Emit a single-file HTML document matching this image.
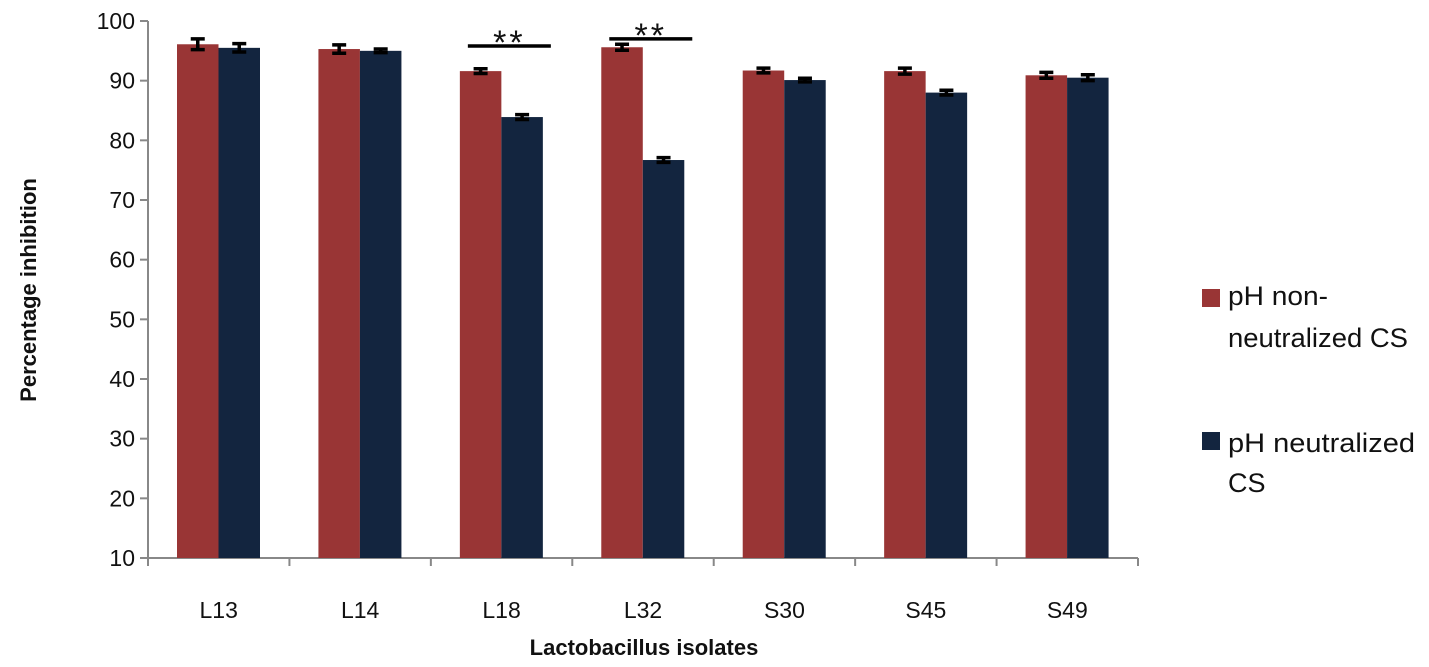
<!DOCTYPE html>
<html><head><meta charset="utf-8"><style>
body{margin:0;background:#fff}
svg{display:block;font-family:"Liberation Sans",sans-serif}
</style></head><body>
<svg id="chart" width="1429" height="667" viewBox="0 0 1429 667">
<g id="axes"></g>
<g id="bars"></g>
<g id="sig"></g>
<text transform="translate(36,290) rotate(-90)" text-anchor="middle" font-size="22" font-weight="bold" fill="#111">Percentage inhibition</text>
<text x="644" y="655" text-anchor="middle" font-size="22" font-weight="bold" fill="#111">Lactobacillus isolates</text>
<g>
<rect x="1202" y="289" width="18" height="18" fill="#993535"/>
<text x="1228" y="305" font-size="27" fill="#111" textLength="100" lengthAdjust="spacingAndGlyphs">pH non-</text>
<text x="1228" y="347" font-size="27" fill="#111" textLength="180" lengthAdjust="spacingAndGlyphs">neutralized CS</text>
<rect x="1202" y="432" width="18" height="18" fill="#13253f"/>
<text x="1228" y="452" font-size="27" fill="#111" textLength="187" lengthAdjust="spacingAndGlyphs">pH neutralized</text>
<text x="1228" y="492" font-size="27" fill="#111">CS</text>
</g>
</svg>
<script>
const categories=["L13","L14","L18","L32","S30","S45","S49"];
const nonNeutralized=[96.1,95.3,91.6,95.6,91.7,91.6,90.9];
const neutralized=[95.5,95.0,83.9,76.7,90.1,88.0,90.5];
const errNon=[0.9,0.7,0.4,0.5,0.4,0.5,0.5];
const errNeu=[0.7,0.3,0.4,0.4,0.3,0.4,0.5];
const yTicks=[10,20,30,40,50,60,70,80,90,100];
const sigPairs=[2,3];
const sigLevels=[95.8,97.0];

const NS="http://www.w3.org/2000/svg";
const x0=148,plotW=990,yBase=558,yTop=21,yMin=10,yMax=100;
const band=plotW/categories.length,barW=41.5,off=29;
const y=v=>yBase-(v-yMin)*(yBase-yTop)/(yMax-yMin);
const bx=(i,s)=>x0+i*band+off+s*barW;
function mk(tag,attrs,parent){const e=document.createElementNS(NS,tag);for(const k in attrs)e.setAttribute(k,attrs[k]);parent.appendChild(e);return e;}
const axes=document.getElementById('axes'),bars=document.getElementById('bars'),sig=document.getElementById('sig');
let l=mk('line',{x1:x0,y1:yTop,x2:x0,y2:yBase,stroke:'#888','stroke-width':2},axes);


l=mk('line',{x1:x0-8,y1:yBase,x2:x0+plotW,y2:yBase,stroke:'#888','stroke-width':2},axes);


yTicks.forEach(t=>{
 const tk=mk('line',{x1:x0-8,y1:y(t),x2:x0,y2:y(t),stroke:'#888','stroke-width':2},axes);
 
 
 const tx=mk('text',{x:x0-13,y:y(t)+8,'text-anchor':'end','font-size':23,fill:'#111'},axes);
 tx.textContent=t;
 
 
});
for(let i=0;i<=categories.length;i++){
 const tk=mk('line',{x1:x0+i*band,y1:yBase,x2:x0+i*band,y2:yBase+8,stroke:'#888','stroke-width':2},axes);
 
 
}
categories.forEach((c,i)=>{
 const tx=mk('text',{x:x0+(i+0.5)*band,y:618,'text-anchor':'middle','font-size':23,fill:'#111'},axes);
 tx.textContent=c;
 
 
 [[nonNeutralized,errNon,'#993535',0],[neutralized,errNeu,'#13253f',1]].forEach(([vals,errs,col,s])=>{
  const v=vals[i],e=errs[i],xl=bx(i,s);
  const r=mk('rect',{x:xl,y:y(v),width:barW,height:yBase-y(v),fill:col},bars);
  
  
  const cx=xl+barW/2;
  const g=mk('path',{d:`M${cx},${y(v+e)}V${y(v-e)}M${cx-7},${y(v+e)}H${cx+7}M${cx-7},${y(v-e)}H${cx+7}`,stroke:'#000','stroke-width':3.5,fill:'none'},bars);
  
  
 });
});
sigPairs.forEach((i,k)=>{
 const xa=bx(i,0)+8,xb=bx(i,1)+barW+8,yy=y(sigLevels[k]);
 const ln=mk('line',{x1:xa,y1:yy,x2:xb,y2:yy,stroke:'#000','stroke-width':3.5},sig);
 
 
 const tx=mk('text',{x:(xa+xb)/2,y:yy+8,'text-anchor':'middle','font-size':34,fill:'#111','letter-spacing':'3'},sig);
 tx.textContent='**';
 
 
});
</script>
</body></html>
